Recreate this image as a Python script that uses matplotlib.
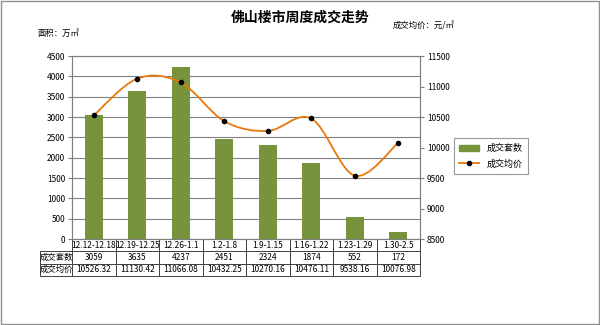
import numpy as np
import matplotlib.pyplot as plt
from matplotlib.path import Path
from matplotlib.patches import PathPatch, Rectangle
from matplotlib.lines import Line2D

plt.rcParams['font.family'] = ['Noto Sans CJK SC', 'DejaVu Sans']

weeks = ['12.12-12.18', '12.19-12.25', '12.26-1.1', '1.2-1.8', '1.9-1.15',
         '1.16-1.22', '1.23-1.29', '1.30-2.5']
units = [3059, 3635, 4237, 2451, 2324, 1874, 552, 172]
prices = [10526.32, 11130.42, 11066.08, 10432.25, 10270.16, 10476.11, 9538.16, 10076.98]

bar_color = '#77933C'
line_color = '#E8780C'

fig = plt.figure(figsize=(6, 3.25), dpi=100)
fig.patches.append(Rectangle((0.002, 0.003), 0.996, 0.994, transform=fig.transFigure,
                             fill=False, edgecolor='#909090', lw=1.0))

ax = fig.add_axes([0.12, 0.2646, 0.58, 0.563])
x = np.arange(len(weeks))
ax.bar(x, units, width=0.42, color=bar_color, zorder=2)
ax.set_xlim(-0.5, len(weeks) - 0.5)
ax.set_ylim(0, 4500)
ax.set_yticks(np.arange(0, 4501, 500))
ax.set_xticks([])
ax.grid(axis='y', color='#808080', lw=0.8, zorder=0)
ax.tick_params(axis='y', labelsize=6, length=3, color='#808080', pad=2)
for s in ax.spines.values():
    s.set_color('#808080')

ax2 = ax.twinx()
ax2.set_ylim(8500, 11500)
ax2.set_yticks(np.arange(8500, 11501, 500))
ax2.tick_params(axis='y', labelsize=6, length=3, color='#808080', pad=2)
for s in ax2.spines.values():
    s.set_color('#808080')

# smooth line through the weekly prices (Catmull-Rom as Bezier segments)
px = x.astype(float)
py = np.array(prices)
verts = [(px[0], py[0])]
codes = [Path.MOVETO]
n = len(px)
for i in range(n - 1):
    p0 = (px[max(i - 1, 0)], py[max(i - 1, 0)])
    p1 = (px[i], py[i])
    p2 = (px[i + 1], py[i + 1])
    p3 = (px[min(i + 2, n - 1)], py[min(i + 2, n - 1)])
    c1 = (p1[0] + (p2[0] - p0[0]) / 6, p1[1] + (p2[1] - p0[1]) / 6)
    c2 = (p2[0] - (p3[0] - p1[0]) / 6, p2[1] - (p3[1] - p1[1]) / 6)
    verts += [c1, c2, p2]
    codes += [Path.CURVE4] * 3
ax2.add_patch(PathPatch(Path(verts, codes), fill=False, edgecolor=line_color, lw=1.3, zorder=3))
ax2.plot(px, py, 'o', color='black', ms=3, zorder=4)

# data table under the chart
cells = [[''] + weeks,
         ['成交套数'] + [str(u) for u in units],
         ['成交均价'] + ['%.2f' % p for p in prices]]
lab_w = 32 / 348
col_w = 1 / len(weeks)
tab = ax.table(cellText=cells, cellLoc='center',
               colWidths=[lab_w] + [col_w] * len(weeks),
               bbox=[-lab_w, -37 / 183, 1 + lab_w, 37 / 183])
tab.auto_set_font_size(False)
tab.set_fontsize(6)
for (r, c), cell in tab.get_celld().items():
    cell.set_edgecolor('#404040')
    cell.set_linewidth(0.7)
    cell.PAD = 0.02
tab[0, 0].visible_edges = ''

fig.text(0.5, 0.945, '佛山楼市周度成交走势', ha='center', va='center',
         fontsize=10, fontweight='bold')
fig.text(0.063, 0.897, '面积：万㎡', ha='left', va='center', fontsize=6)
fig.text(0.655, 0.92, '成交均价：元/㎡', ha='left', va='center', fontsize=6)

handles = [Rectangle((0, 0), 1, 1, color=bar_color),
           Line2D([], [], color=line_color, lw=1.3, marker='o', mfc='black',
                  mec='black', ms=3)]
leg = fig.legend(handles, ['成交套数', '成交均价'], loc='center',
                 bbox_to_anchor=(0.818, 0.52), fontsize=6.5, frameon=True,
                 fancybox=False, edgecolor='#808080', handlelength=2.2,
                 borderpad=0.6, labelspacing=0.7)
leg.get_frame().set_linewidth(0.8)

plt.savefig('out.png', dpi=100)
